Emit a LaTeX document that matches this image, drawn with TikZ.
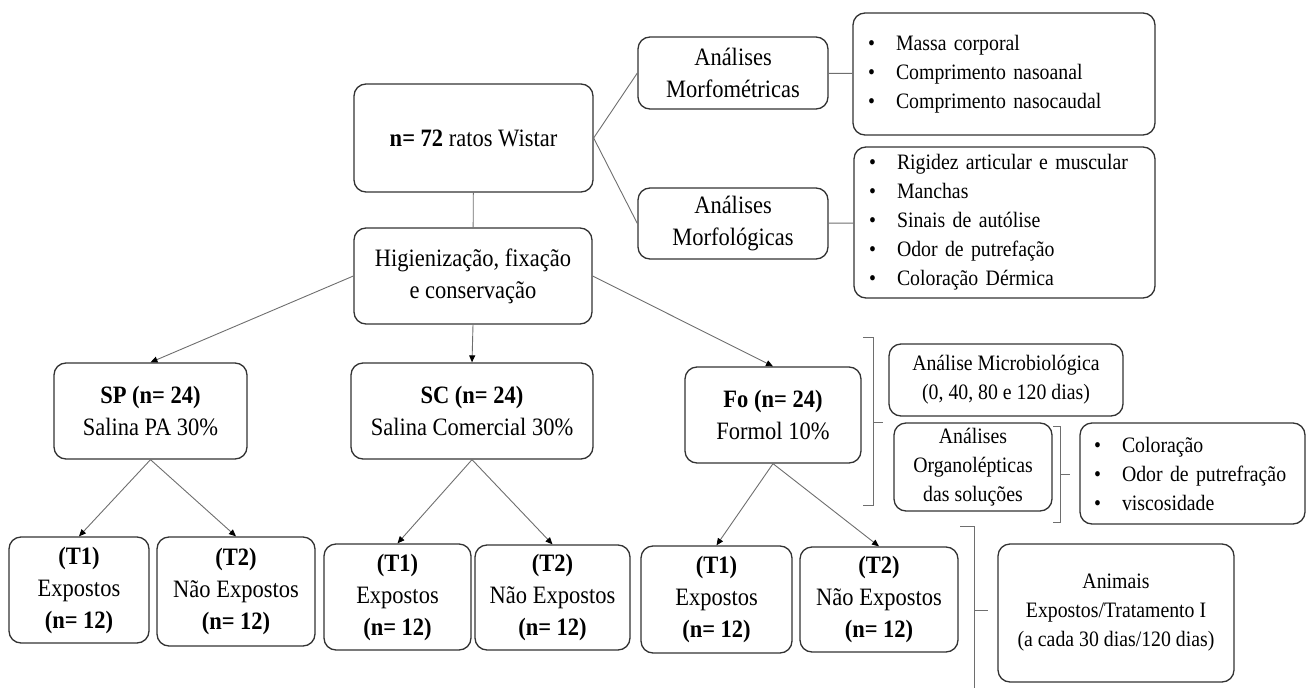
\documentclass[tikz,border=0pt]{standalone}
\usepackage{fontspec}
\setmainfont{Liberation Serif}[FakeStretch=0.9]
\usetikzlibrary{arrows.meta, positioning}
\definecolor{boxDark}{RGB}{50,50,50}
\definecolor{lineGray}{RGB}{110,110,110}
\newcommand{\bigtxt}{\fontsize{25}{32}\selectfont}
\newcommand{\smalltxt}{\fontsize{22}{29}\selectfont}
\newcommand{\bul}{\makebox[28pt][l]{\textbullet}}

\begin{document}
\begin{tikzpicture}[x=1pt, y=-1pt,
box/.style={rectangle, rounded corners=12pt, draw=boxDark, line width=1.3pt,
align=center, inner sep=0pt, font=\bigtxt},
boxsize/.style 2 args={minimum width=#1pt, minimum height=#2pt},
list/.style={box, font=\smalltxt, align=left, inner xsep=15pt},
link/.style={draw=lineGray, line width=0.9pt},
arrow/.style={link, -{Triangle[length=7pt, width=6pt, color=black]}},
bracket/.style={draw=lineGray, line width=0.9pt}]

\useasboundingbox (0,0) rectangle (1307,688);

% top of the tree
\node[box, boxsize={239}{108}] (wistar) at (473.5,138) {\textbf{n= 72} ratos Wistar};
\node[box, boxsize={238}{96}] (higien) at (473,276) {Higienização, fixação\\e conservação};

% analyses of the animals
\node[box, boxsize={190}{72}] (morfom) at (733,73) {Análises\\Morfométricas};
\node[box, boxsize={190}{71}] (morfol) at (733,223.5) {Análises\\Morfológicas};
\node[list, boxsize={302}{122}, text width=272pt] (medidas) at (1004,74)
    {\bul Massa corporal\\\bul Comprimento nasoanal\\\bul Comprimento nasocaudal};
\node[list, boxsize={301}{151}, text width=271pt] (sinais) at (1004.5,222.5)
    {\bul Rigidez articular e muscular\\\bul Manchas\\\bul Sinais de autólise\\
     \bul Odor de putrefação\\\bul Coloração Dérmica};

% solutions
\node[box, boxsize={193}{96}] (sp) at (150.5,411) {\textbf{SP (n= 24)}\\Salina PA 30\%};
\node[box, boxsize={242}{96}] (sc) at (472,411) {\textbf{SC (n= 24)}\\Salina Comercial 30\%};
\node[box, boxsize={176}{96}] (fo) at (773,415) {\textbf{Fo (n= 24)}\\Formol 10\%};

% treatment groups
\node[box, boxsize={140}{106}] (sp1) at (79,590) {\textbf{(T1)}\\Expostos\\\textbf{(n= 12)}};
\node[box, boxsize={158}{109}] (sp2) at (236,591.5) {\textbf{(T2)}\\Não Expostos\\\textbf{(n= 12)}};
\node[box, boxsize={147}{106}] (sc1) at (397.5,597) {\textbf{(T1)}\\Expostos\\\textbf{(n= 12)}};
\node[box, boxsize={155}{105}] (sc2) at (552.5,597.5) {\textbf{(T2)}\\Não Expostos\\\textbf{(n= 12)}};
\node[box, boxsize={151}{107}] (fo1) at (716.5,599.5) {\textbf{(T1)}\\Expostos\\\textbf{(n= 12)}};
\node[box, boxsize={158}{105}] (fo2) at (879,599.5) {\textbf{(T2)}\\Não Expostos\\\textbf{(n= 12)}};

% analyses of the solutions
\node[box, font=\smalltxt, boxsize={234}{72}] (micro) at (1006,380)
    {Análise Microbiológica\\(0, 40, 80 e 120 dias)};
\node[box, font=\smalltxt, boxsize={158}{88}] (organo) at (973,467)
    {Análises\\Organolépticas\\das soluções};
\node[list, boxsize={225}{101}, text width=197pt, inner xsep=14pt] (solucao) at (1192.5,473.5)
    {\bul Coloração\\\bul Odor de putrefração\\\bul viscosidade};
\node[box, font=\smalltxt, boxsize={236}{138}] (animais) at (1116,613)
    {Animais\\Expostos/Tratamento I\\(a cada 30 dias/120 dias)};

\draw[link] (wistar) -- (higien);
\draw[link] (wistar.east) -- (morfom.west);
\draw[link] (wistar.east) -- (morfol.west);
\draw[link] (morfom) -- (medidas);
\draw[link] (morfol) -- (sinais);

\draw[arrow] (higien.west)  -- (sp.north);
\draw[arrow] (higien.south) -- (sc.north);
\draw[arrow] (higien.east)  -- (fo.north);
\draw[arrow] (sp.south) -- (sp1.north);
\draw[arrow] (sp.south) -- (sp2.north);
\draw[arrow] (sc.south) -- (sc1.north);
\draw[arrow] (sc.south) -- (sc2.north);
\draw[arrow] (fo.south) -- (fo1.north);
\draw[arrow] (fo.south) -- (fo2.north);

% brackets
\draw[bracket] (863,337) -- (873,337) -- (873,505) -- (863,505);
\draw[bracket] (873,422) -- (883,422);
\draw[bracket] (1053,426) -- (1060,426) -- (1060,522) -- (1053,522);
\draw[bracket] (1060,474) -- (1070,474);
\draw[bracket] (960,526) -- (974,526) -- (974,688);
\draw[bracket] (974,610) -- (988,610);
\end{tikzpicture}
\end{document}
